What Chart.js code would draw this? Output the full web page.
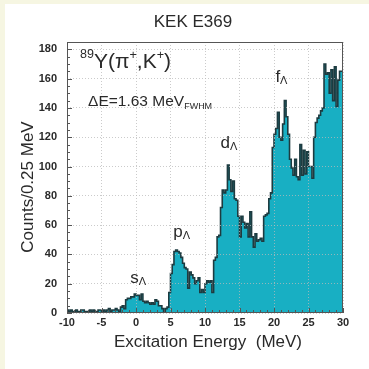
<!DOCTYPE html>
<html>
<head>
<meta charset="utf-8">
<script src="https://cdn.jsdelivr.net/npm/chart.js@4.4.1/dist/chart.umd.min.js"></script>
<style>
  html, body { margin: 0; padding: 0; background: #f6f6e2; }
  #card { position: absolute; left: 5px; top: 4px; width: 364px; height: 365px; background: #fff; }
</style>
</head>
<body>
<div id="card"><canvas id="spectrum"></canvas></div>
<script>
'use strict'

// histogram: 0.25 MeV bins from -10 to 30 MeV
const energyMin = -10;
const energyMax = 30;
const binWidth = 0.25;

const counts = [
  // -10 .. -2
  3,2,1,2,1,1,2,1, 1,2,2,1,1,1,2,1, 2,1,1,2,2,1,2,1, 2,3,1,2,2,3,2,1,
  // -2 .. 0
  4,5,3,9,10,10,11,11,
  // 0 .. 5
  13,12,12,9,13,8,7,8,7,6,7,6,9,8,5,5,3,1,3,4,
  // 5 .. 10
  14,27,33,42,43,42,41,38,34,31,30,17,28,26,24,20,22,24,14,16,
  // 10 .. 12
  14,20,22,21,22,14,36,38,
  // 12 .. 15
  52,53,72,84,82,84,101,91,83,90,78,77,
  // 15 .. 20
  66,52,66,62,58,61,52,69,52,45,54,49,50,51,49,66,67,68,78,82,
  // 20 .. 30
  113,122,126,137,120,118,129,145,134,122,105,99,94,105,93,91,115,94,111,95,
  110,100,100,92,120,130,133,135,138,140,170,163,164,150,166,145,168,141,159,165
];

const xTicks = [-10, -5, 0, 5, 10, 15, 20, 25, 30];
const yTicks = [0, 20, 40, 60, 80, 100, 120, 140, 160, 180];

// peak labels: [letter, energy, counts]
const peakLabels = [
  ['s', -0.85, 24],
  ['p', 5.4, 55],
  ['d', 12.25, 116],
  ['f', 20.2, 161]
];

const fillColor = '#18afc3';
const lineColor = '#1d3b40';
const textColor = '#2a2a2a';
const gridColor = 'rgba(185,185,185,0.75)';
const fontFamily = "'Liberation Sans', Arial, Helvetica, sans-serif";

const points = counts.map((c, i) => ({ x: energyMin + i * binWidth, y: c }));
points.push({ x: energyMax, y: counts[counts.length - 1] });

// frame, inner tick marks and text labels
const decorations = {
  id: 'decorations',
  afterDraw(chart) {
    const ctx = chart.ctx;
    const area = chart.chartArea;
    const xs = chart.scales.x;
    const ys = chart.scales.y;

    ctx.save();
    ctx.strokeStyle = '#555';
    ctx.lineWidth = 1;
    ctx.strokeRect(area.left + 0.5, area.top + 0.5, area.right - area.left - 1, area.bottom - area.top - 1);

    // minor / major ticks inside the frame
    ctx.beginPath();
    for (let e = energyMin; e <= energyMax; e += 1) {
      const px = Math.round(xs.getPixelForValue(e)) + 0.5;
      const len = e % 5 === 0 ? 5 : 3;
      ctx.moveTo(px, area.bottom);
      ctx.lineTo(px, area.bottom - len);
    }
    for (let v = 0; v <= ys.max; v += 5) {
      const py = Math.round(ys.getPixelForValue(v)) + 0.5;
      const len = v % 20 === 0 ? 5 : 3;
      ctx.moveTo(area.left, py);
      ctx.lineTo(area.left + len, py);
    }
    ctx.stroke();

    ctx.fillStyle = textColor;
    ctx.textBaseline = 'middle';

    // title
    ctx.textAlign = 'center';
    ctx.font = '17px ' + fontFamily;
    ctx.fillText('KEK E369', 188, 18);

    // axis titles
    ctx.fillText('Excitation Energy  (MeV)', 203, 338);
    ctx.save();
    ctx.translate(23, 183);
    ctx.rotate(-Math.PI / 2);
    ctx.fillText('Counts/0.25 MeV', 0, 0);
    ctx.restore();

    ctx.textAlign = 'left';

    // pieces: [text, size, dy]
    function run(parts, x, y) {
      for (const [t, size, dy] of parts) {
        ctx.font = size + 'px ' + fontFamily;
        ctx.fillText(t, x, y + dy);
        x += ctx.measureText(t).width;
      }
    }

    run([['89', 12.5, -8], ['Y(\u03c0', 21, 0], ['+', 12.5, -7], [',K', 21, 0], ['+', 12.5, -7], [')', 21, 0]],
      xs.getPixelForValue(-8.1), ys.getPixelForValue(171));
    run([['\u0394E=1.63 MeV', 15.5, 0], ['FWHM', 9, 4]],
      xs.getPixelForValue(-6.95), ys.getPixelForValue(144));

    for (const [letter, e, c] of peakLabels) {
      run([[letter, 17, 0], ['\u039b', 11, 4]], xs.getPixelForValue(e), ys.getPixelForValue(c));
    }
    ctx.restore();
  }
};

const tickFont = { family: fontFamily, size: 11, weight: 'bold' };

const config = {
  type: 'line',
  data: {
    datasets: [{
      label: 'Counts',
      data: points,
      stepped: 'after',
      fill: 'origin',
      backgroundColor: fillColor,
      borderColor: lineColor,
      borderWidth: 1.6,
      pointRadius: 0
    }]
  },
  options: {
    responsive: true,
    maintainAspectRatio: false,
    animation: false,
    layout: { padding: { left: 0, right: 26, top: 38, bottom: 0 } },
    plugins: { legend: { display: false }, tooltip: { enabled: false } },
    scales: {
      x: {
        type: 'linear',
        min: energyMin,
        max: energyMax,
        afterFit: s => { s.height = 56; },
        afterBuildTicks: s => { s.ticks = xTicks.map(v => ({ value: v })); },
        ticks: { font: tickFont, color: textColor, padding: 3, maxRotation: 0, autoSkip: false },
        grid: { color: gridColor, z: 1, drawTicks: false },
        border: { display: false, dash: [1, 2] }
      },
      y: {
        min: 0,
        max: 185,
        afterFit: s => { s.width = 62; },
        afterBuildTicks: s => { s.ticks = yTicks.map(v => ({ value: v })); },
        ticks: { font: tickFont, color: textColor, padding: 10 },
        grid: { color: gridColor, z: 1, drawTicks: false },
        border: { display: false, dash: [1, 2] }
      }
    }
  },
  plugins: [decorations]
};

const spectrumChart = new Chart(document.querySelector('#spectrum'), config);
</script>
</body>
</html>
